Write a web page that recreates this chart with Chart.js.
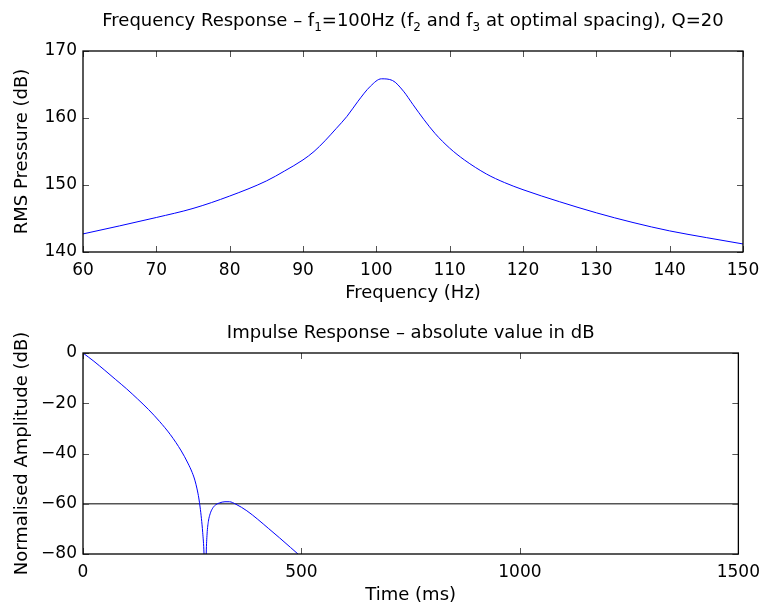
<!DOCTYPE html>
<html>
<head>
<meta charset="utf-8">
<script src="https://cdn.jsdelivr.net/npm/chart.js@4.4.1/dist/chart.umd.min.js"></script>
<style>
  html, body { margin: 0; padding: 0; background: #fff; }
  .panel { position: absolute; left: 0; width: 768px; }
</style>
</head>
<body>
<div class="panel" style="top:0;height:306px"><canvas id="freqChart" width="768" height="306"></canvas></div>
<div class="panel" style="top:306px;height:306px"><canvas id="impulseChart" width="768" height="306"></canvas></div>
<script>
// frequency response
const freqHz = [60, 65, 70, 75, 80, 85, 87.5, 90, 91.5, 93, 94.5, 96, 97.5, 99.2, 100.7, 102.2, 103.7,
  105, 106.5, 108, 110, 112, 115, 117.5, 120, 125, 130, 135, 140, 145, 150];
const pressureDb = [142.7, 143.9, 145.15, 146.5, 148.35, 150.6, 152.1, 153.75, 155.0, 156.6, 158.4, 160.25, 162.5, 164.75, 165.85, 165.6, 164.0,
  162.0, 159.75, 157.7, 155.5, 153.75, 151.65, 150.35, 149.3, 147.5, 145.85, 144.4, 143.15, 142.15, 141.2];

// impulse response, abs value in dB
const timeMs = [0, 25, 50, 75, 100, 125, 150, 175, 200, 225, 240, 250, 256, 261, 265, 268, 271, 274, 277, 280,
  282, 284, 287, 291, 296, 303, 312, 325, 335, 350, 375, 400, 425, 450, 475, 492, 500];
const ampDb = [0, -3.3, -6.9, -10.6, -14.3, -18.3, -22.5, -27.2, -32.5, -39, -43.8, -47.6, -50.6, -54.1, -57.7, -61.3, -65.8, -71.5, -80, -100,
  -80, -72, -67, -64, -62, -60.5, -59.7, -59.2, -59.2, -60.2, -62.8, -66.2, -69.9, -73.6, -77.4, -80, -81.3];

const thresholdDb = -60;

const freqTicks = { min: 60, max: 150, step: 10 };
const pressTicks = { min: 140, max: 170, step: 10 };
const timeTicks = { min: 0, max: 1500, step: 500 };
const ampTicks = { min: -80, max: 0, step: 20 };

const FONT = '"DejaVu Sans", "Liberation Sans", Arial, sans-serif';

// title with subscripts, box, inward tick marks on all four sides
const matlabFrame = {
  id: 'matlabFrame',
  afterDatasetsDraw(chart, args, opts) {
    const { ctx, chartArea: a, scales: { x, y } } = chart;
    ctx.save();
    ctx.strokeStyle = '#555';
    ctx.lineWidth = 1;
    ctx.beginPath();
    x.ticks.forEach(t => {
      const px = Math.round(x.getPixelForValue(t.value)) + 0.5;
      ctx.moveTo(px, a.bottom); ctx.lineTo(px, a.bottom - 6);
      ctx.moveTo(px, a.top); ctx.lineTo(px, a.top + 6);
    });
    y.ticks.forEach(t => {
      const py = Math.round(y.getPixelForValue(t.value)) + 0.5;
      ctx.moveTo(a.left, py); ctx.lineTo(a.left + 6, py);
      ctx.moveTo(a.right, py); ctx.lineTo(a.right - 6, py);
    });
    ctx.stroke();
    ctx.strokeStyle = '#000';
    ctx.lineWidth = 1.3;
    ctx.strokeRect(a.left, a.top, a.right - a.left, a.bottom - a.top);

    // title
    const runs = opts.runs || [];
    const size = 18, subSize = 12;
    ctx.fillStyle = '#000';
    ctx.textBaseline = 'alphabetic';
    let total = 0;
    runs.forEach(r => {
      ctx.font = (r.sub ? subSize : size) + 'px ' + FONT;
      total += ctx.measureText(r.t).width;
    });
    let cx = (a.left + a.right) / 2 - total / 2;
    runs.forEach(r => {
      ctx.font = (r.sub ? subSize : size) + 'px ' + FONT;
      ctx.fillText(r.t, cx, opts.baseline + (r.sub ? 5 : 0));
      cx += ctx.measureText(r.t).width;
    });
    ctx.restore();
  }
};

const plainTick = v => String(v).replace('-', '\u2212');

function makeChart(id, cfg) {
  const xs = cfg.xTicks, ys = cfg.yTicks;
  return new Chart(document.getElementById(id), {
    type: 'line',
    data: { datasets: cfg.datasets },
    options: {
      responsive: false,
      animation: false,
      events: [],
      layout: { padding: { top: cfg.top, right: 25, left: 0, bottom: 0 } },
      plugins: {
        legend: { display: false },
        tooltip: { enabled: false },
        matlabFrame: { runs: cfg.title, baseline: cfg.titleBaseline }
      },
      scales: {
        x: {
          type: 'linear', min: xs.min, max: xs.max,
          grid: { display: false, drawTicks: false },
          border: { display: false },
          ticks: { stepSize: xs.step, color: '#000', padding: 8, maxRotation: 0,
                   callback: plainTick, font: { family: FONT, size: 17 } },
          title: { display: true, text: cfg.xTitle, color: '#000',
                   font: { family: FONT, size: 18 }, padding: { top: 0, bottom: cfg.xTitlePad } },
          afterFit: s => { s.height = cfg.xHeight; }
        },
        y: {
          min: ys.min, max: ys.max,
          grid: { display: false, drawTicks: false },
          border: { display: false },
          ticks: { stepSize: ys.step, color: '#000', padding: 6,
                   callback: plainTick, font: { family: FONT, size: 17 } },
          title: { display: true, text: cfg.yTitle, color: '#000',
                   font: { family: FONT, size: 18 }, padding: { top: 12, bottom: 0 } },
          afterFit: s => { s.width = 83; }
        }
      }
    },
    plugins: [matlabFrame]
  });
}

makeChart('freqChart', {
  top: 51, xHeight: 54, xTitlePad: 2,
  xTicks: freqTicks, yTicks: pressTicks,
  xTitle: 'Frequency (Hz)', yTitle: 'RMS Pressure (dB)',
  titleBaseline: 26,
  title: [
    { t: 'Frequency Response – f' }, { t: '1', sub: true },
    { t: '=100Hz (f' }, { t: '2', sub: true },
    { t: ' and f' }, { t: '3', sub: true },
    { t: ' at optimal spacing), Q=20' }
  ],
  datasets: [{
    data: freqHz.map((f, i) => ({ x: f, y: pressureDb[i] })),
    borderColor: '#0000ff', borderWidth: 1, pointRadius: 0, cubicInterpolationMode: 'monotone'
  }]
});

makeChart('impulseChart', {
  top: 47, xHeight: 58, xTitlePad: 6,
  xTicks: timeTicks, yTicks: ampTicks,
  xTitle: 'Time (ms)', yTitle: 'Normalised Amplitude (dB)',
  titleBaseline: 32,
  title: [{ t: 'Impulse Response – absolute value in dB' }],
  datasets: [{
    data: timeMs.map((t, i) => ({ x: t, y: ampDb[i] })),
    borderColor: '#0000ff', borderWidth: 1, pointRadius: 0, cubicInterpolationMode: 'monotone'
  }, {
    data: [{ x: timeTicks.min, y: thresholdDb }, { x: timeTicks.max, y: thresholdDb }],
    borderColor: '#555', borderWidth: 1.5, pointRadius: 0
  }]
});
</script>
</body>
</html>
